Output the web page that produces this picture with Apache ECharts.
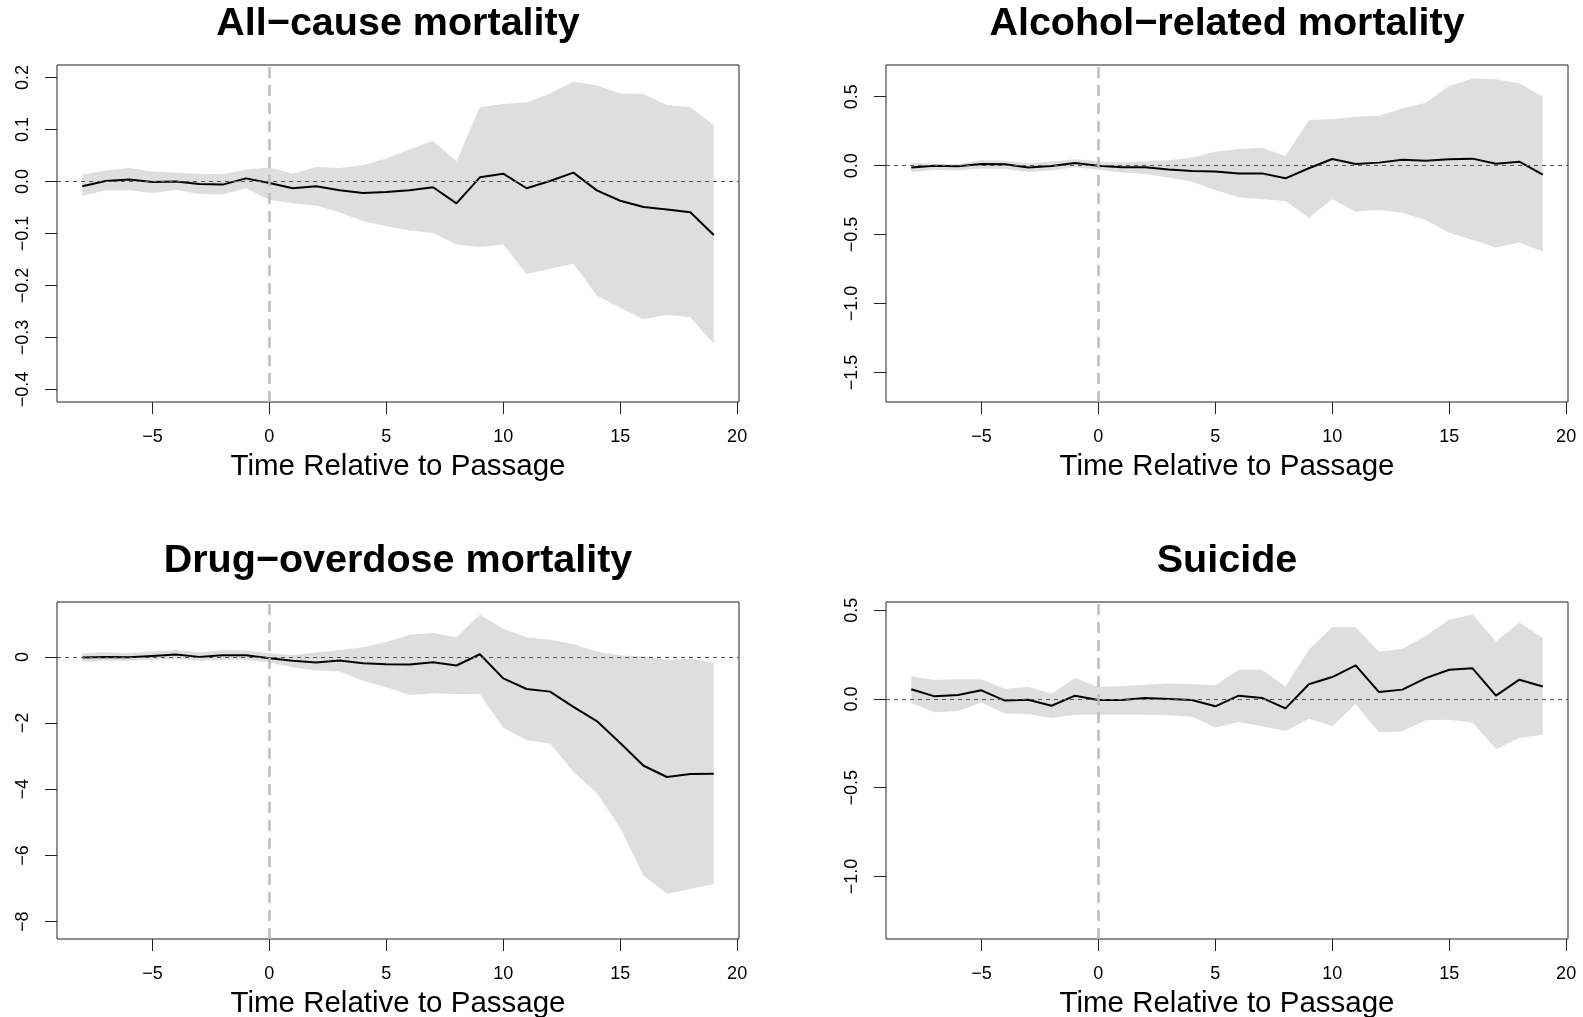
<!DOCTYPE html>
<html>
<head>
<meta charset="utf-8">
<script src="https://cdn.jsdelivr.net/npm/echarts@6/dist/echarts.min.js"></script>
<style>
  html, body { margin: 0; padding: 0; background: #fff; }
  #chart { width: 1583px; height: 1017px; }
</style>
</head>
<body>
<div id="chart"></div>
<script>
// Event time (years relative to passage)
const years = [-8,-7,-6,-5,-4,-3,-2,-1,0,1,2,3,4,5,6,7,8,9,10,11,12,13,14,15,16,17,18,19];

// All-cause mortality: estimate and confidence band
const allEst   = [-0.009,0.001,0.004,-0.001,0.000,-0.005,-0.006,0.006,-0.003,-0.013,-0.009,-0.017,-0.022,-0.020,-0.017,-0.011,-0.042,0.008,0.015,-0.013,0.001,0.017,-0.017,-0.037,-0.049,-0.054,-0.059,-0.103];
const allUpper = [0.013,0.021,0.026,0.019,0.017,0.015,0.014,0.023,0.027,0.015,0.028,0.026,0.031,0.044,0.062,0.078,0.039,0.143,0.149,0.152,0.169,0.192,0.185,0.169,0.168,0.147,0.143,0.108];
const allLower = [-0.028,-0.017,-0.017,-0.022,-0.016,-0.024,-0.025,-0.013,-0.035,-0.042,-0.046,-0.059,-0.076,-0.086,-0.094,-0.099,-0.121,-0.126,-0.121,-0.178,-0.168,-0.158,-0.219,-0.243,-0.265,-0.256,-0.261,-0.312];

// Alcohol-related mortality
const alcEst   = [-0.014,0.000,-0.005,0.012,0.010,-0.014,-0.002,0.019,0.000,-0.012,-0.012,-0.027,-0.039,-0.043,-0.056,-0.056,-0.092,-0.019,0.048,0.012,0.022,0.043,0.036,0.046,0.051,0.014,0.029,-0.065];
const alcUpper = [0.022,0.012,0.012,0.040,0.036,0.017,0.030,0.046,0.030,0.024,0.030,0.040,0.060,0.100,0.120,0.130,0.070,0.330,0.338,0.355,0.362,0.415,0.457,0.577,0.633,0.626,0.597,0.500];
const alcLower = [-0.048,-0.030,-0.036,-0.020,-0.024,-0.046,-0.036,-0.012,-0.030,-0.050,-0.060,-0.085,-0.116,-0.176,-0.229,-0.244,-0.256,-0.377,-0.244,-0.333,-0.321,-0.341,-0.394,-0.486,-0.539,-0.594,-0.558,-0.623];

// Drug-overdose mortality
const drugEst   = [-0.02,0.00,-0.01,0.03,0.07,0.00,0.05,0.05,-0.04,-0.12,-0.17,-0.11,-0.19,-0.22,-0.23,-0.16,-0.26,0.08,-0.65,-0.97,-1.05,-1.51,-1.94,-2.60,-3.29,-3.63,-3.54,-3.53];
const drugUpper = [0.11,0.14,0.11,0.16,0.21,0.13,0.20,0.19,0.11,0.06,0.13,0.21,0.29,0.45,0.67,0.72,0.59,1.27,0.85,0.59,0.52,0.38,0.16,0.04,0.01,-0.09,-0.06,-0.17];
const drugLower = [-0.15,-0.12,-0.12,-0.09,-0.06,-0.12,-0.09,-0.09,-0.17,-0.31,-0.41,-0.44,-0.72,-0.92,-1.15,-1.10,-1.12,-1.13,-2.14,-2.52,-2.62,-3.47,-4.11,-5.16,-6.61,-7.16,-7.01,-6.86];

// Suicide
const suiEst   = [0.055,0.015,0.023,0.049,-0.009,-0.004,-0.038,0.019,-0.006,-0.006,0.006,0.000,-0.006,-0.041,0.019,0.006,-0.053,0.083,0.124,0.190,0.039,0.053,0.118,0.165,0.173,0.019,0.109,0.071];
const suiUpper = [0.128,0.107,0.111,0.111,0.058,0.068,0.030,0.118,0.068,0.073,0.081,0.088,0.083,0.077,0.165,0.165,0.071,0.278,0.404,0.404,0.267,0.282,0.357,0.447,0.476,0.325,0.432,0.344];
const suiLower = [-0.023,-0.075,-0.068,-0.019,-0.081,-0.085,-0.107,-0.088,-0.088,-0.088,-0.088,-0.092,-0.100,-0.160,-0.130,-0.154,-0.180,-0.111,-0.154,-0.028,-0.188,-0.182,-0.120,-0.117,-0.132,-0.282,-0.220,-0.201];

// Panel titles and axis ticks
const titles = ['All\u2212cause mortality', 'Alcohol\u2212related mortality', 'Drug\u2212overdose mortality', 'Suicide'];
const xLabel = 'Time Relative to Passage';
const xTicks = [-5, 0, 5, 10, 15, 20];
const yTicks1 = [-0.4, -0.3, -0.2, -0.1, 0, 0.1, 0.2];
const yTicks2 = [-1.5, -1.0, -0.5, 0, 0.5];
const yTicks3 = [-8, -6, -4, -2, 0];
const yTicks4 = [-1.0, -0.5, 0, 0.5];

const FONT = '"Liberation Sans", Arial, Helvetica, sans-serif';

const panels = [
  { est: allEst,  up: allUpper,  lo: allLower,  ticks: yTicks1, dec: 1, ymin: -0.424, ymax: 0.224, grid: { left: 57,  top: 65,  width: 682, height: 337 } },
  { est: alcEst,  up: alcUpper,  lo: alcLower,  ticks: yTicks2, dec: 1, ymin: -1.714, ymax: 0.730, grid: { left: 886, top: 65,  width: 682, height: 337 } },
  { est: drugEst, up: drugUpper, lo: drugLower, ticks: yTicks3, dec: 0, ymin: -8.524, ymax: 1.658, grid: { left: 57,  top: 602, width: 682, height: 337 } },
  { est: suiEst,  up: suiUpper,  lo: suiLower,  ticks: yTicks4, dec: 1, ymin: -1.353, ymax: 0.547, grid: { left: 886, top: 602, width: 682, height: 337 } }
];

const minus = s => String(s).replace('-', '\u2212');

const grids = [], xAxes = [], yAxes = [], series = [], graphics = [];

panels.forEach((p, i) => {
  grids.push(Object.assign({ show: true, borderColor: '#222', borderWidth: 1, backgroundColor: 'transparent' }, p.grid));

  xAxes.push({
    type: 'value', gridIndex: i, min: -9.08, max: 20.08, position: 'bottom',
    axisLine: { show: false, onZero: false },
    splitLine: { show: false },
    axisTick: { show: true, length: 12, lineStyle: { color: '#222', width: 1 }, customValues: xTicks },
    axisLabel: { show: true, customValues: xTicks, margin: 26, fontSize: 18, color: '#000', fontFamily: FONT,
                 formatter: v => minus(v) }
  });

  yAxes.push({
    type: 'value', gridIndex: i, min: p.ymin, max: p.ymax, position: 'left',
    axisLine: { show: false, onZero: false },
    splitLine: { show: false },
    axisTick: { show: true, length: 12, lineStyle: { color: '#222', width: 1 }, customValues: p.ticks },
    axisLabel: { show: true, customValues: p.ticks, rotate: 90, margin: 25, fontSize: 18, color: '#000', fontFamily: FONT,
                 formatter: v => minus(Number(v).toFixed(p.dec)) }
  });

  // confidence band: one polygon along the upper bound and back along the lower bound
  series.push({
    type: 'custom', xAxisIndex: i, yAxisIndex: i, silent: true, z: 1,
    data: [[years[0], p.lo[0]]],
    renderItem: (params, api) => {
      const pts = [];
      years.forEach((x, k) => pts.push(api.coord([x, p.up[k]])));
      for (let k = years.length - 1; k >= 0; k--) pts.push(api.coord([years[k], p.lo[k]]));
      return { type: 'polygon', shape: { points: pts }, style: { fill: '#dedede', stroke: null } };
    }
  });

  // point estimates with reference lines at zero
  series.push({
    type: 'line', xAxisIndex: i, yAxisIndex: i,
    data: years.map((x, k) => [x, p.est[k]]),
    symbol: 'none', lineStyle: { color: '#000', width: 2 }, z: 3,
    markLine: {
      silent: true, symbol: ['none', 'none'], label: { show: false }, animation: false,
      data: [
        { yAxis: 0, lineStyle: { color: '#555', width: 1, type: [4, 4] } },
        { xAxis: 0, lineStyle: { color: '#bdbdbd', width: 2.5, type: [11, 7] } }
      ]
    }
  });

  const cx = p.grid.left + p.grid.width / 2;
  graphics.push({
    type: 'text', x: cx, y: p.grid.top - 41,
    style: { text: titles[i], font: 'bold 39.5px ' + FONT, fill: '#000', textAlign: 'center', textVerticalAlign: 'middle' }
  });
  graphics.push({
    type: 'text', x: cx, y: p.grid.top + p.grid.height + 65,
    style: { text: xLabel, font: '29.5px ' + FONT, fill: '#000', textAlign: 'center', textVerticalAlign: 'middle' }
  });
});

const chart = echarts.init(document.getElementById('chart'), null, { renderer: 'canvas' });
chart.setOption({
  animation: false,
  backgroundColor: '#fff',
  grid: grids,
  xAxis: xAxes,
  yAxis: yAxes,
  series: series,
  graphic: graphics
});
</script>
</body>
</html>
